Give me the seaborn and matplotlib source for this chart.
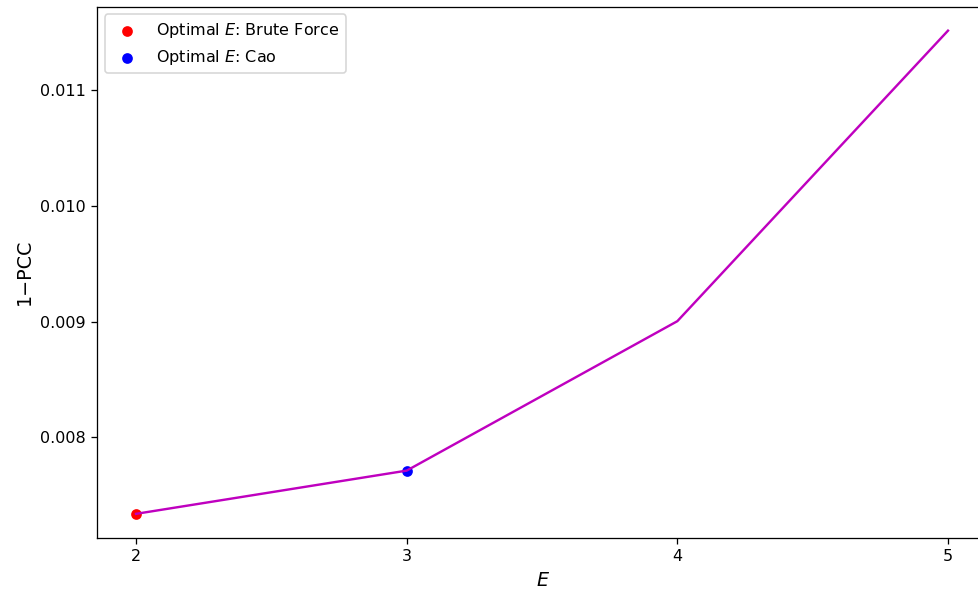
import matplotlib
matplotlib.use("Agg")
import matplotlib.pyplot as plt
import seaborn as sns
import pandas as pd

E_values = [2, 3, 4, 5]
one_minus_pcc = [0.007336, 0.007710, 0.009003, 0.011517]
brute_E = [2]
brute_val = [0.007336]
cao_E = [3]
cao_val = [0.007710]

plt.rcParams['font.family'] = ['DejaVu Sans']
DPI = 115
fig = plt.figure(figsize=(978/DPI, 592/DPI), dpi=DPI)
ax = fig.add_axes([97/978, (592-538)/592, (988.6-97)/978, (538-6.5)/592])

df = pd.DataFrame({"E": E_values, "v": one_minus_pcc})
sns.scatterplot(x=brute_E, y=brute_val, color="red", s=45, linewidth=0,
                label=r"Optimal $E$: Brute Force", ax=ax)
sns.scatterplot(x=cao_E, y=cao_val, color="blue", s=45, linewidth=0,
                label=r"Optimal $E$: Cao", ax=ax)
sns.lineplot(data=df, x="E", y="v", color="m", linewidth=1.5, ax=ax, legend=False)

ax.set_xticks(E_values)
ax.set_xticklabels([str(e) for e in E_values])
ax.set_yticks([0.008, 0.009, 0.010, 0.011])
ax.set_yticklabels(["0.008", "0.009", "0.010", "0.011"])
ax.set_xlim(1.856, 5.15)
ax.set_ylim(0.007127, 0.011726)
ax.set_xlabel(r"$E$", fontsize=12)
ax.set_ylabel("1−PCC", fontsize=12)
ax.legend(loc="upper left")

fig.savefig("out.png", dpi=DPI)
